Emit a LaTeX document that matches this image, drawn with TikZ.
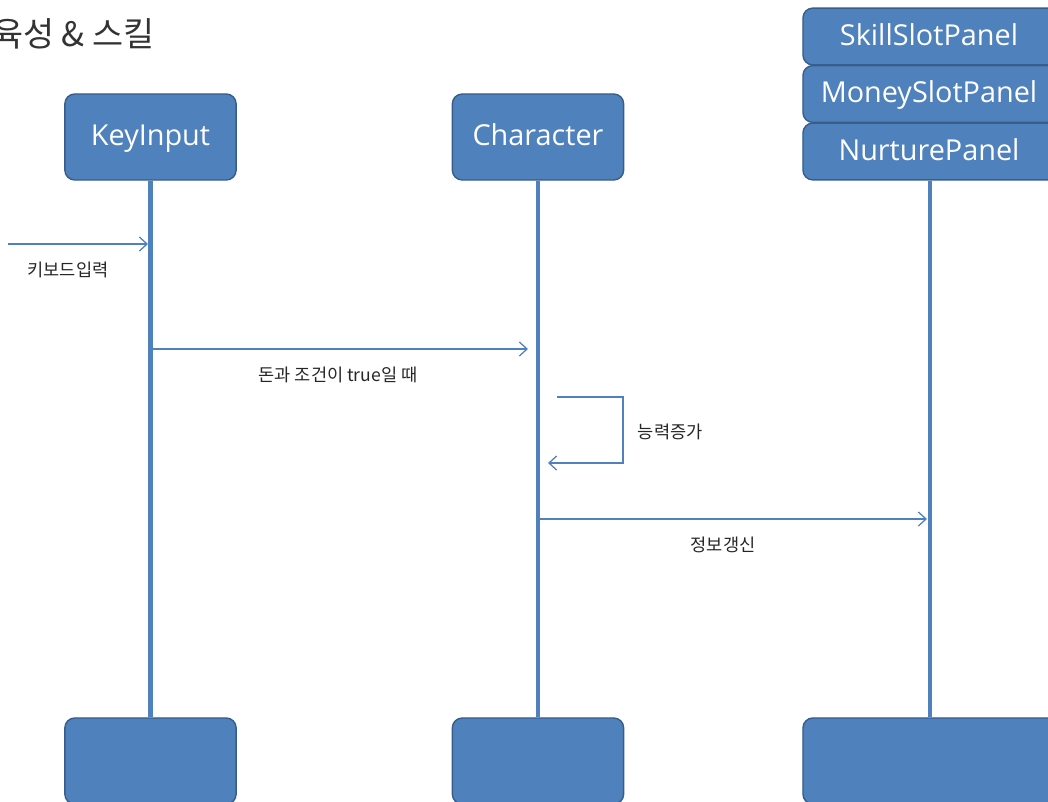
\documentclass[tikz,border=0pt]{standalone}
\usepackage{fontspec}
\setmainfont{Open Sans}
\newfontfamily\kfont{Noto Sans CJK KR}
\usetikzlibrary{arrows.meta}
\definecolor{boxblue}{HTML}{4F81BD}
\definecolor{boxedge}{HTML}{385D8A}
\tikzset{
  objbox/.style={draw=boxedge,line width=1pt,fill=boxblue,rounded corners=7pt,
    text=white,font=\fontsize{20.5}{24}\selectfont,inner sep=0pt,
    text height=1.15em,text depth=0pt},
  lifeline/.style={draw=boxblue,line width=3pt},
  msg/.style={draw=boxblue,line width=0.9pt,-{Straight Barb[length=5.5pt,width=10pt,line width=0.9pt]}},
  msglabel/.style={font=\kfont\fontsize{12.5}{14}\selectfont,text=black!85}
}
\begin{document}
\begin{tikzpicture}[x=0.025cm,y=-0.025cm]
\useasboundingbox (0,0) rectangle (1048,802);

% title
\node[anchor=west,font=\kfont\fontsize{24}{28}\selectfont,text=black!80,inner sep=0pt] (title) at (-8,34) {육성 \& 스킬};

% objects on top
\node[objbox,minimum width=4.28cm,minimum height=2.15cm] (key) at (150.5,137) {KeyInput};
\node[objbox,minimum width=4.28cm,minimum height=2.15cm] (chr) at (538,137) {Character};
\node[objbox,minimum width=6.35cm,minimum height=1.42cm] (skill) at (930,36.5) {};
\node[objbox,minimum width=6.35cm,minimum height=1.42cm] (money) at (930,94) {};
\node[objbox,minimum width=6.35cm,minimum height=1.42cm] (nurt) at (930,151.5) {};
\node[objbox,draw=none,fill=none] (skilltxt) at (929,37) {SkillSlotPanel};
\node[objbox,draw=none,fill=none] (moneytxt) at (929,94) {MoneySlotPanel};
\node[objbox,draw=none,fill=none] (nurttxt) at (929,152) {NurturePanel};

% objects at the bottom
\node[objbox,minimum width=4.28cm,minimum height=2.15cm] (keyend) at (150.5,761) {};
\node[objbox,minimum width=4.28cm,minimum height=2.15cm] (chrend) at (538,761) {};
\node[objbox,minimum width=6.35cm,minimum height=2.15cm] (nurtend) at (930,761) {};

% lifelines
\draw[lifeline] (key.south) -- (keyend.north);
\draw[lifeline] (chr.south) -- (chrend.north);
\draw[lifeline] (nurt.south) -- (nurtend.north);

% messages
\coordinate (in1) at (8,244);
\coordinate (in2) at (148,244);
\draw[msg] (in1) -- (in2);
\node[msglabel] (lbl1) at (68,270) {키보드입력};

\coordinate (m1a) at (150,349);
\coordinate (m1b) at (528,349);
\draw[msg] (m1a) -- (m1b);
\node[msglabel] (lbl2) at (338,375) {돈과 조건이 true일 때};

\coordinate (s1) at (557,397);
\coordinate (s2) at (548,463);
\draw[msg] (s1) -- (623,397) -- (623,463) -- (s2);
\node[msglabel,anchor=west] (lbl3) at (633,432) {능력증가};

\coordinate (m2a) at (538,519);
\coordinate (m2b) at (927,519);
\draw[msg] (m2a) -- (m2b);
\node[msglabel] (lbl4) at (723,545) {정보갱신};

\end{tikzpicture}
\end{document}
